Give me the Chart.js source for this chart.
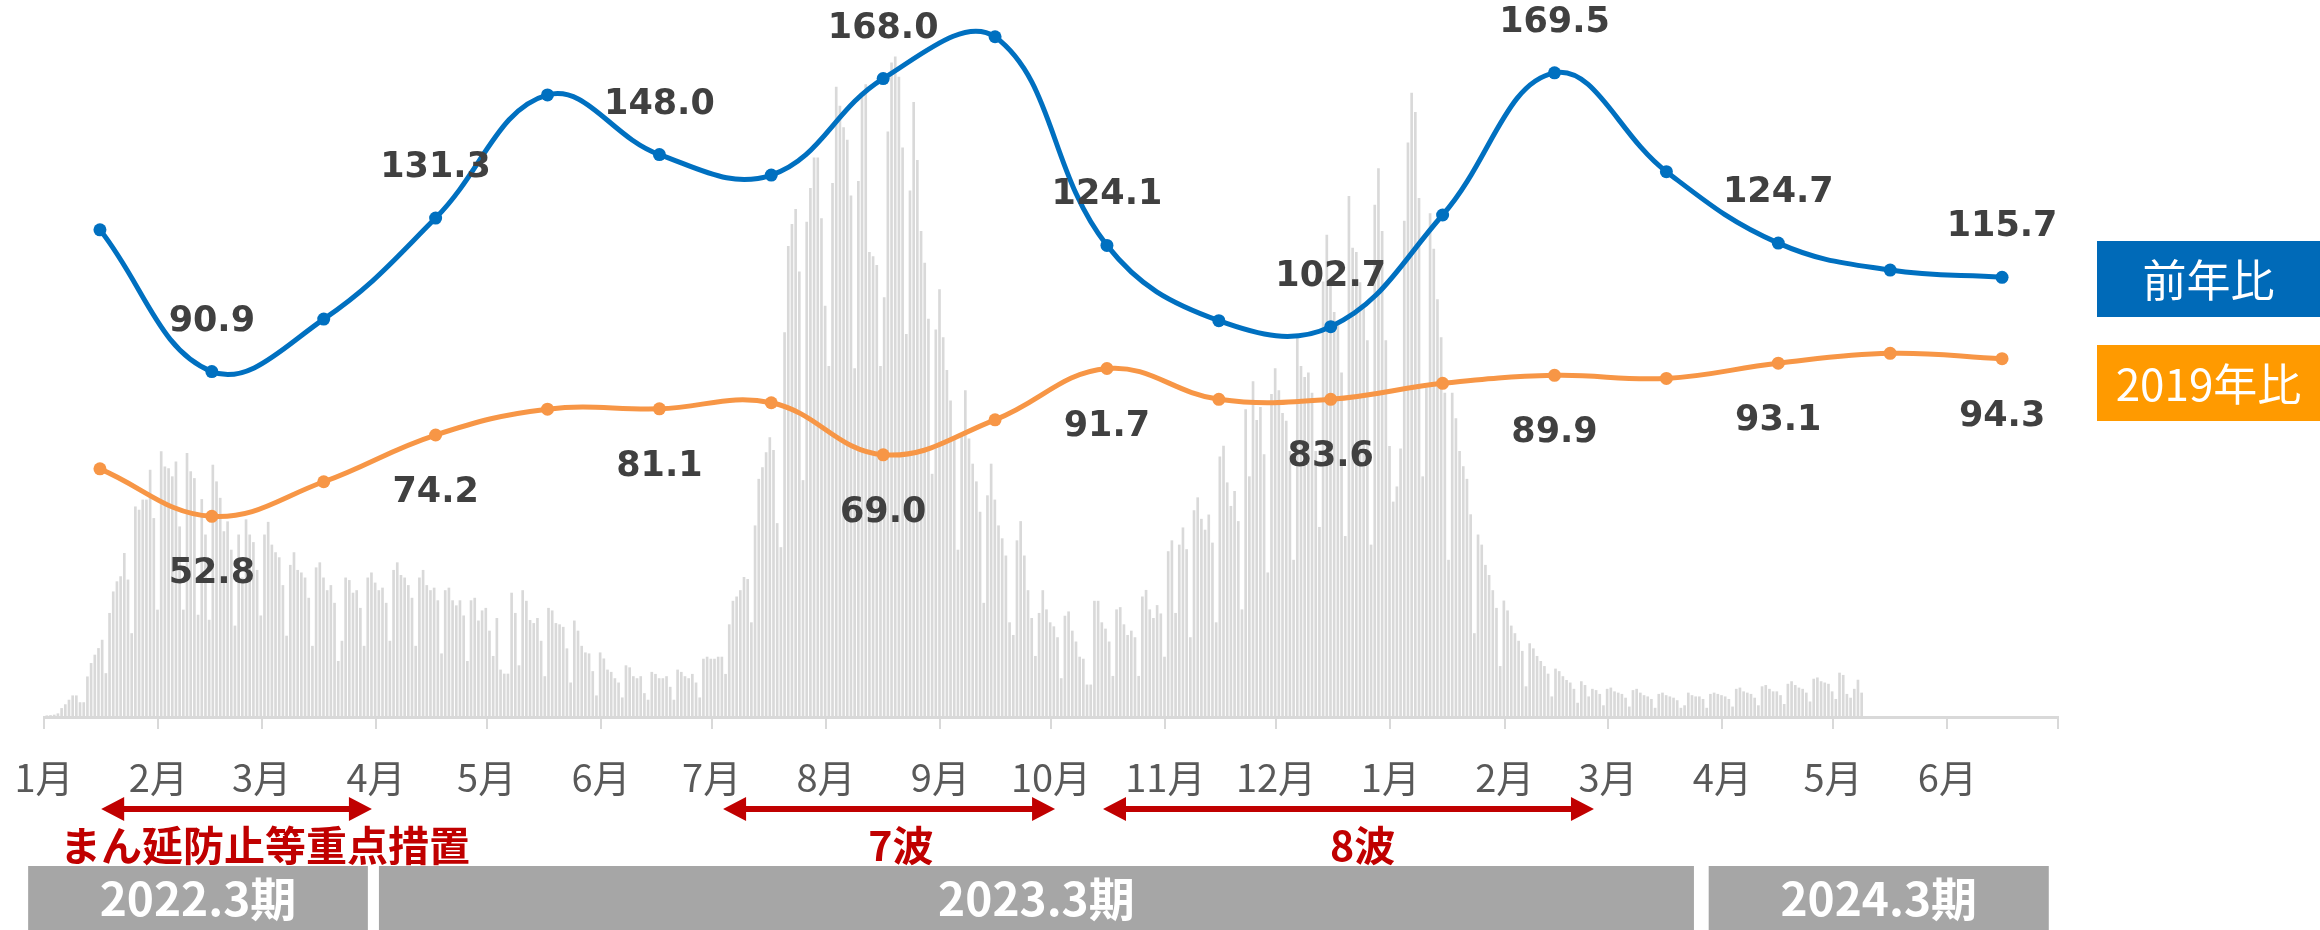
<!DOCTYPE html>
<html lang="ja">
<head>
<meta charset="utf-8">
<title>前年比・2019年比</title>
<script src="https://cdn.jsdelivr.net/npm/chart.js@4.4.1/dist/chart.umd.min.js"></script>
<style>
  html, body { margin: 0; padding: 0; background: #fff; }
  #wrap { width: 2320px; height: 930px; }
</style>
</head>
<body>
<div id="wrap"><canvas id="chart" width="2320" height="930"></canvas></div>
<script>
// 月（カテゴリ）
const months = ['1月', '2月', '3月', '4月', '5月', '6月', '7月', '8月', '9月', '10月', '11月', '12月',
                '1月', '2月', '3月', '4月', '5月', '6月'];
// 軸目盛（月初の日数, 2022/1/1 = 0）とラベル
const monthStarts = [0, 31, 59, 90, 120, 151, 181, 212, 243, 273, 304, 334, 365, 396, 424, 455, 485, 516, 546];
const tickLabels = ['1月', '2月', '3月', '4月', '5月', '6月', '7月', '8月', '9月', '10月', '11月', '12月',
                    '1月', '2月', '3月', '4月', '5月', '6月', ''];

// 前年比
const yoy = [128.2, 90.9, 104.7, 131.3, 163.7, 148.0, 142.6, 168.0, 179.0, 124.1, 104.3, 102.7,
             132.1, 169.5, 143.5, 124.7, 117.6, 115.7];
// 2019年比
const vs2019 = [65.3, 52.8, 61.9, 74.2, 81.0, 81.1, 82.7, 69.0, 78.2, 91.7, 83.6, 83.6,
                87.8, 89.9, 89.1, 93.1, 95.7, 94.3];

// 新規感染者数（日次, 千人）2022/1/1 〜 2023/5/8
const dailyCases = [
  0.5, 0.6,
  0.8, 1.3, 3.4, 4.9, 6.7, 8.4, 8.4,
  5.7, 5.7, 15.9, 21.2, 24.5, 27.1, 30.4,
  17.2, 41, 49.5, 53.5, 55.5, 64.7, 54.2,
  33, 83.1, 81.8, 85.8, 85.8, 97.6, 78.5,
  42.3, 104.9, 98.9, 98.2, 95, 100.9, 75.2,
  42.3, 104.2, 97, 94.3, 40.3, 86, 72,
  38.3, 99.6, 93, 86.5, 73.3, 77.2, 66,
  36, 72, 55, 78, 72, 69, 58,
  40, 72, 77, 68, 65, 63, 52,
  32, 60, 65, 58, 57, 55, 47,
  28, 59, 61, 55, 50, 52, 45,
  22, 30, 55, 54, 49, 50, 43,
  28, 55, 57, 53, 50, 51, 45,
  30, 58, 61, 56, 55, 52, 47,
  28, 55, 58, 52, 50, 51, 46,
  25, 50, 51, 46, 44, 46, 40,
  22, 46, 47, 38, 42, 43, 34,
  24, 39, 18.6, 17, 17, 49, 41,
  20.3, 50, 45.8, 38.2, 37, 39, 30,
  16, 43, 42, 37, 36.5, 35.5, 27,
  13.5, 38, 34, 28, 25.4, 25, 18,
  8.4, 25.4, 23, 18.6, 17.7, 15.2, 13.5,
  7.6, 20.3, 19.5, 16, 15.2, 16, 9.3,
  6.7, 17.7, 16.9, 15.2, 15.2, 16, 11.8,
  6.7, 18.6, 17.7, 16, 15.2, 16.9, 13.5,
  7.6, 22.9, 23.7, 22.9, 22.9, 23.7, 23.7,
  16.9, 36.5, 45.8, 47.5, 50, 55.2, 54.4,
  37.3, 75.6, 94, 98.6, 104.5, 110.5, 105.4,
  76.5, 67, 152, 186, 194.7, 200.7, 176,
  93.5, 195.6, 209, 221, 221, 197, 162.4,
  138.6, 211, 249, 241.5, 233, 228, 206,
  137.7, 211.7, 245, 250, 183.7, 182, 178.5,
  138.6, 165.8, 231.3, 258.6, 261, 253, 225,
  151.3, 208, 243, 220, 192, 179.4, 157.3,
  96, 153, 169, 150, 137, 125, 110,
  66, 112, 129, 110, 100, 93, 81,
  45, 87.5, 100, 85.8, 75.6, 70.5, 63.7,
  37.3, 32.3, 69.7, 77.3, 63.7, 50, 39,
  24, 41, 50, 42.4, 37.3, 35.7, 31.4,
  15.2, 39.9, 41.6, 34, 29.7, 23.7, 22.9,
  12.7, 12.7, 45.8, 45.8, 37.3, 34.8, 29.7,
  16.1, 42.4, 43.3, 36.5, 32.3, 34, 31.4,
  16.1, 47.5, 50.1, 42.4, 39, 44.1, 40.8,
  23.7, 65.4, 69.7, 41, 68, 74.8, 66.2,
  31.4, 81.6, 86.7, 78.2, 73.9, 79.9, 68.8,
  37.3, 102.8, 107.1, 92.6, 83.3, 89.2, 77.3,
  42.4, 121.5, 95, 132.6, 117.3, 122.4, 103.7,
  57, 127.5, 137.7, 129, 120, 117, 105,
  62, 150.5, 138.6, 134.3, 136, 128, 105,
  75, 172, 190.5, 171.7, 160, 154.7, 136,
  71.4, 205.8, 185.4, 183.7, 171.7, 161.5, 148.8,
  68, 202.4, 216.8, 192, 148.8, 107, 85,
  91, 106, 196, 227, 246.6, 239, 205,
  95, 130, 199, 185, 165, 150, 128,
  62, 128, 118, 105, 99, 94, 80,
  33, 72, 68, 60, 56, 50, 43,
  20, 45.9, 42, 36, 33, 30, 26,
  12, 29, 27, 24, 22, 20, 17,
  8, 19, 18, 16, 14.5, 13.5, 11,
  5.5, 14, 12.5, 8, 11, 10.5, 9,
  4.5, 11, 11.5, 10, 9.5, 9, 7.5,
  4, 10.5, 11, 9.5, 8.5, 8, 7,
  3.5, 9, 9.5, 8.5, 8, 7.5, 6.5,
  3.5, 4.5, 9.5, 8.5, 8, 8, 7,
  3.5, 9, 9.5, 9, 8.5, 8, 7,
  4, 11, 11.5, 10, 9.5, 9, 7.5,
  4.5, 12, 12.5, 11, 10, 10, 8.5,
  5, 13, 14, 12.5, 11.5, 11, 9.5,
  6, 15, 15.5, 14, 13.5, 13, 10,
  7, 17.4, 16.5, 9, 7.5, 11, 14.6,
  9.5
];

// 期の帯・矢印（日数で指定）
const periods = [
  { label: '2022.3期', from: -4.3, to: 87.8 },
  { label: '2023.3期', from: 90.8, to: 447.3 },
  { label: '2024.3期', from: 451.3, to: 543.5 }
];
const spans = [
  { label: 'まん延防止等重点措置', from: 15.5, to: 88.9, textAt: 59.9 },
  { label: '7波', from: 184.1, to: 274.1, textAt: 232.3 },
  { label: '8波', from: 287.1, to: 420.2, textAt: 357.5 }
];
const legendItems = [
  { label: '前年比', color: '#006AB8', top: 241 },
  { label: '2019年比', color: '#FF9A00', top: 345 }
];

const JP = '"Noto Sans CJK JP", "Noto Sans", sans-serif';

const drawArrow = (ctx, x1, x2, y) => {
  const head = 23, half = 12, shaft = 3;
  ctx.beginPath();
  ctx.moveTo(x1, y);
  ctx.lineTo(x1 + head, y - half);
  ctx.lineTo(x1 + head, y - shaft);
  ctx.lineTo(x2 - head, y - shaft);
  ctx.lineTo(x2 - head, y - half);
  ctx.lineTo(x2, y);
  ctx.lineTo(x2 - head, y + half);
  ctx.lineTo(x2 - head, y + shaft);
  ctx.lineTo(x1 + head, y + shaft);
  ctx.lineTo(x1 + head, y + half);
  ctx.closePath();
  ctx.fill();
};

const overlay = {
  id: 'overlay',
  afterDatasetsDraw(chart) {
    const ctx = chart.ctx;

    // 数値ラベル（偶数月のみ）
    ctx.save();
    ctx.font = 'bold 35px "DejaVu Sans"';
    ctx.fillStyle = '#404040';
    ctx.textAlign = 'center';
    ctx.textBaseline = 'middle';
    chart.data.datasets.forEach((ds, di) => {
      if (ds.labelOffset === undefined) return;
      chart.getDatasetMeta(di).data.forEach((pt, i) => {
        if (i % 2 === 0) return;
        ctx.fillText(ds.data[i].toFixed(1), pt.x, pt.y + ds.labelOffset);
      });
    });
    ctx.restore();
  },
  afterDraw(chart) {
    const ctx = chart.ctx;
    const xs = chart.scales.x;
    const area = chart.chartArea;
    ctx.save();

    // 矢印と赤文字
    ctx.fillStyle = '#C00000';
    spans.forEach(s => {
      drawArrow(ctx, xs.getPixelForValue(s.from), xs.getPixelForValue(s.to), area.bottom + 92);
    });
    ctx.font = `bold 41px ${JP}`;
    ctx.textAlign = 'center';
    ctx.textBaseline = 'middle';
    spans.forEach(s => {
      ctx.fillText(s.label, xs.getPixelForValue(s.textAt), area.bottom + 128);
    });

    // 期の帯
    periods.forEach(p => {
      const x1 = xs.getPixelForValue(p.from);
      const x2 = xs.getPixelForValue(p.to);
      ctx.fillStyle = '#A6A6A6';
      ctx.fillRect(x1, area.bottom + 149, x2 - x1, chart.height - area.bottom - 149);
      ctx.fillStyle = '#FFFFFF';
      ctx.font = `bold 46px ${JP}`;
      ctx.fillText(p.label, (x1 + x2) / 2, area.bottom + 182);
    });

    // 凡例
    legendItems.forEach(l => {
      ctx.fillStyle = l.color;
      ctx.fillRect(area.right + 39, l.top, chart.width - area.right - 39, 76);
      ctx.fillStyle = '#FFFFFF';
      ctx.font = `44px ${JP}`;
      ctx.fillText(l.label, (area.right + 39 + chart.width) / 2, l.top + 39);
    });
    ctx.restore();
  }
};

new Chart(document.getElementById('chart'), {
  type: 'line',
  data: {
    labels: months,
    datasets: [
      {
        label: '前年比',
        data: yoy,
        xAxisID: 'xc',
        yAxisID: 'y',
        borderColor: '#0070C0',
        backgroundColor: '#0070C0',
        borderWidth: 5,
        pointRadius: 6.5,
        pointBorderWidth: 0,
        tension: 0.4,
        clip: false,
        labelOffset: -50,
        order: 1
      },
      {
        label: '2019年比',
        data: vs2019,
        xAxisID: 'xc',
        yAxisID: 'y',
        borderColor: '#F79646',
        backgroundColor: '#F79646',
        borderWidth: 5,
        pointRadius: 6.5,
        pointBorderWidth: 0,
        tension: 0.4,
        clip: false,
        labelOffset: 58,
        order: 2
      },
      {
        type: 'bar',
        label: '新規感染者数',
        data: dailyCases.map((v, i) => ({ x: i + 0.5, y: v })),
        xAxisID: 'x',
        yAxisID: 'yb',
        backgroundColor: '#D9D9D9',
        barThickness: 2,
        order: 3
      }
    ]
  },
  options: {
    responsive: false,
    animation: false,
    devicePixelRatio: 1,
    layout: { padding: { left: 44, right: 262, top: 17, bottom: 0 } },
    plugins: {
      legend: { display: false },
      tooltip: { enabled: false }
    },
    scales: {
      x: {
        type: 'linear',
        position: 'bottom',
        min: 0,
        max: 546,
        offset: false,
        afterBuildTicks: s => { s.ticks = monthStarts.map(v => ({ value: v })); },
        afterFit: s => {
          s.height = 213;
          s.paddingLeft = 0;
          s.paddingRight = 0;
        },
        grid: { offset: false, drawOnChartArea: false, tickLength: 12, color: '#D9D9D9', lineWidth: 2 },
        border: { color: '#D9D9D9', width: 3 },
        ticks: {
          autoSkip: false,
          maxRotation: 0,
          padding: 26,
          color: '#595959',
          font: { family: JP, size: 38 },
          callback: (v, i) => tickLabels[i]
        }
      },
      xc: { type: 'category', display: false, offset: true },
      y: { display: false, min: 0, max: 184.2 },
      yb: { display: false, min: 0, max: 276.7 }
    }
  },
  plugins: [overlay]
});
</script>
</body>
</html>
